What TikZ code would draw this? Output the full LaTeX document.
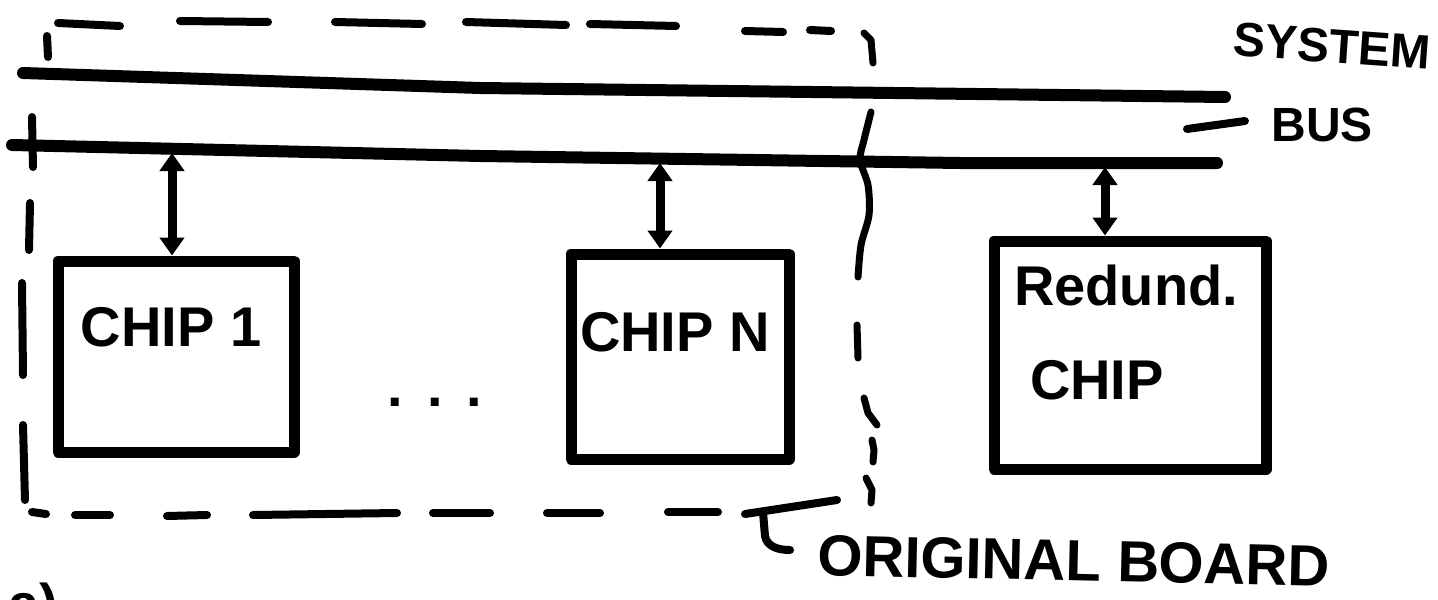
\documentclass[tikz,border=0pt]{standalone}
\usepackage{fontspec}
\setmainfont{Liberation Sans}
\usetikzlibrary{arrows.meta}
\begin{document}
\begin{tikzpicture}[x=0.5pt,y=-0.5pt,
  bus/.style={line width=6pt,line cap=round,line join=round},
  chipbox/.style={draw,line width=5.5pt,line join=round,inner sep=0pt},
  dashseg/.style={line width=4pt,line cap=round},
  edgeseg/.style={line width=3.5pt,line cap=round,line join=round},
  tap/.style={line width=4.5pt,{Triangle[width=12pt,length=9pt]}-{Triangle[width=12pt,length=9pt]}},
  hand/.style={font=\fontsize{28}{30}\selectfont\bfseries,inner sep=0pt},
  handsmall/.style={font=\fontsize{24}{26}\selectfont\bfseries,inner sep=0pt},
  handwide/.style={font=\fontsize{29}{31}\selectfont\bfseries,inner sep=0pt},
]
\useasboundingbox (0,0) rectangle (1438,599);

% system bus: two lines
\draw[bus] (23,73) -- (480,88) -- (1225,97);
\draw[bus] (12,145) -- (480,156) -- (960,163) -- (1217,163);

% chips
\node[chipbox,minimum width=118pt,minimum height=95.5pt] (chip1) at (176,356.5) {};
\node[chipbox,minimum width=109pt,minimum height=102.5pt] (chipN) at (680,356.5) {};
\node[chipbox,minimum width=136pt,minimum height=114pt] (redund) at (1130,355) {};

\node[hand] (t1) at (171,327) {CHIP 1};
\node[hand] (tN) at (675,332) {CHIP N};
\node[hand] (tr1) at (1126,285) {Redund.};
\node[hand] (tr2) at (1097,380) {CHIP};
\node[hand,anchor=base] (dots) at (435,406) {.\hspace{12pt}.\hspace{12pt}.};

% bus taps
\coordinate (tap1) at (172,153);
\coordinate (tapN) at (660,163);
\coordinate (tapR) at (1105,167);
\draw[tap] (tap1) -- (tap1 |- chip1.north);
\draw[tap] (tapN) -- (tapN |- chipN.north);
\draw[tap] (tapR) -- (tapR |- redund.north);

% original board outline (hand-drawn dashes)
\foreach \a/\b in {
  {(58,23)}/{(120,26)}, {(180,21)}/{(268,22)}, {(335,22)}/{(422,24)},
  {(466,22)}/{(566,25)}, {(590,24)}/{(676,26)}, {(745,31)}/{(783,32)},
  {(810,30)}/{(831,31)},
  {(47,36)}/{(48,57)}, {(32,117)}/{(33,167)}, {(30,203)}/{(29,250)},
  {(22,283)}/{(23,375)}, {(23,425)}/{(25,500)},
  {(32,512)}/{(46,514)}, {(75,515)}/{(110,515)}, {(167,516)}/{(207,515)},
  {(253,515)}/{(397,513)}, {(433,513)}/{(490,513)}, {(547,513)}/{(600,513)},
  {(668,512)}/{(718,512)}, {(745,514)}/{(837,500)}}
  \draw[dashseg] \a -- \b;

% wavy right edge of the board
\draw[edgeseg] (864,33) -- (871,40) -- (873,63);
\draw[edgeseg] plot[smooth] coordinates {(871,112) (864,140) (860,160) (868,185) (869,215) (861,245) (858,277)};
\draw[edgeseg] (857,325) -- (858,358);
\draw[edgeseg] (864,398) -- (868,413) -- (877,425);
\draw[edgeseg] (872,440) -- (874,450) -- (873,462);
\draw[edgeseg] (866,478) -- (872,490) -- (871,503);

% labels
\node[handsmall,rotate=-4] (sys) at (1332,46) {SYSTEM};
\node[handsmall] (busl) at (1322,125) {BUS};
\coordinate (lead) at (1187,129);
\draw[line width=4pt,line cap=round] (lead) -- ([xshift=-13pt,yshift=2pt]busl.west);

\node[handwide,rotate=-1.3] (orig) at (1074,561) {ORIGINAL BOARD};
\coordinate (hook) at (763,512);
\draw[line width=4pt,line cap=round] (hook) -- (765,536) to[out=-80,in=180] (790,550);

\node[hand,anchor=north west] (fig) at (8,583) {a)};
\end{tikzpicture}
\end{document}
